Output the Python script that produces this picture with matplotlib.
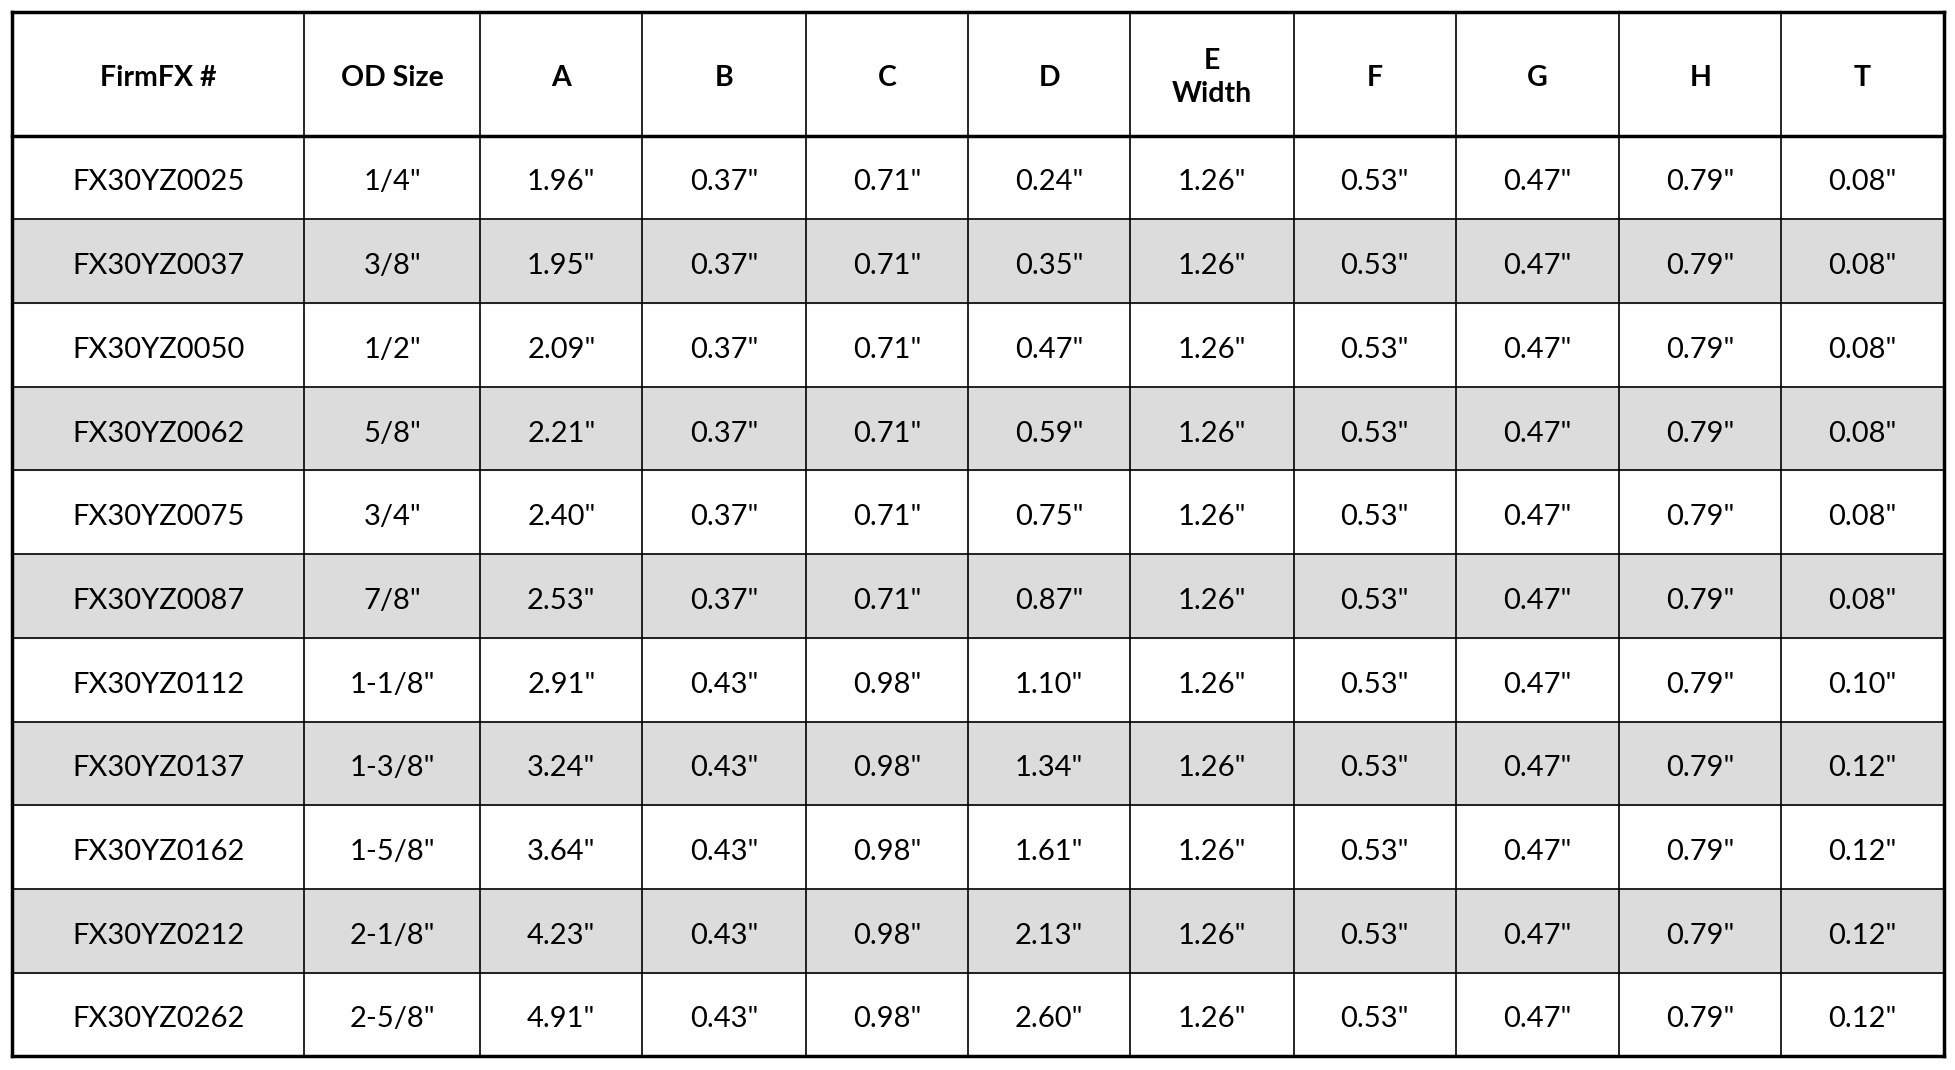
import matplotlib
matplotlib.use("Agg")
from matplotlib import pyplot as plt
from matplotlib.patches import Rectangle

headers = ["FirmFX #", "OD Size", "A", "B", "C", "D", "E\nWidth", "F", "G", "H", "T"]
part_no = ["FX30YZ0025", "FX30YZ0037", "FX30YZ0050", "FX30YZ0062", "FX30YZ0075", "FX30YZ0087",
           "FX30YZ0112", "FX30YZ0137", "FX30YZ0162", "FX30YZ0212", "FX30YZ0262"]
od_size = ['1/4"', '3/8"', '1/2"', '5/8"', '3/4"', '7/8"', '1-1/8"', '1-3/8"', '1-5/8"', '2-1/8"', '2-5/8"']
col_a = ["1.96", "1.95", "2.09", "2.21", "2.40", "2.53", "2.91", "3.24", "3.64", "4.23", "4.91"]
col_b = ["0.37"] * 6 + ["0.43"] * 5
col_c = ["0.71"] * 6 + ["0.98"] * 5
col_d = ["0.24", "0.35", "0.47", "0.59", "0.75", "0.87", "1.10", "1.34", "1.61", "2.13", "2.60"]
col_e = ["1.26"] * 11
col_f = ["0.53"] * 11
col_g = ["0.47"] * 11
col_h = ["0.79"] * 11
col_t = ["0.08"] * 6 + ["0.10"] + ["0.12"] * 4

# column edges / row edges in reference pixel units (1568 x 860)
xs = [10, 244, 385, 515, 646, 776, 906, 1037, 1167, 1298, 1428, 1558]
header_top, header_bot, bottom = 10, 109, 849
n = len(part_no)
row_h = (bottom - header_bot) / n

fig = plt.figure(figsize=(19.56, 10.70), dpi=100)
ax = fig.add_axes([0, 0, 1, 1])
ax.set_xlim(0, 1568)
ax.set_ylim(860, 0)
ax.axis("off")
font = "Lato"

for j, h in enumerate(headers):
    ax.text((xs[j] + xs[j + 1]) / 2, (header_top + header_bot) / 2 + 3, h, ha="center", va="center",
            fontsize=20.5, fontweight="bold", family=font, linespacing=1.35)

cols = [part_no, od_size] + [[v + '"' for v in c] for c in
                             [col_a, col_b, col_c, col_d, col_e, col_f, col_g, col_h, col_t]]
for i in range(n):
    y0 = header_bot + i * row_h
    if i % 2 == 1:
        ax.add_patch(Rectangle((xs[0], y0), xs[-1] - xs[0], row_h, color="#dcdcdc", zorder=0))
    for j, c in enumerate(cols):
        ax.text((xs[j] + xs[j + 1]) / 2, y0 + row_h / 2 + 4, c[i], ha="center", va="center",
                fontsize=21, family=font)

# grid lines
for x in xs:
    lw = 2.5 if x in (xs[0], xs[-1]) else 1.2
    ax.plot([x, x], [header_top, bottom], color="black", lw=lw)
ax.plot([xs[0], xs[-1]], [header_top, header_top], color="black", lw=2.5)
ax.plot([xs[0], xs[-1]], [bottom, bottom], color="black", lw=2.5)
ax.plot([xs[0], xs[-1]], [header_bot, header_bot], color="black", lw=2.5)
for i in range(1, n):
    y = header_bot + i * row_h
    ax.plot([xs[0], xs[-1]], [y, y], color="black", lw=1.2)

fig.savefig("out.png", dpi=100, facecolor="white")
